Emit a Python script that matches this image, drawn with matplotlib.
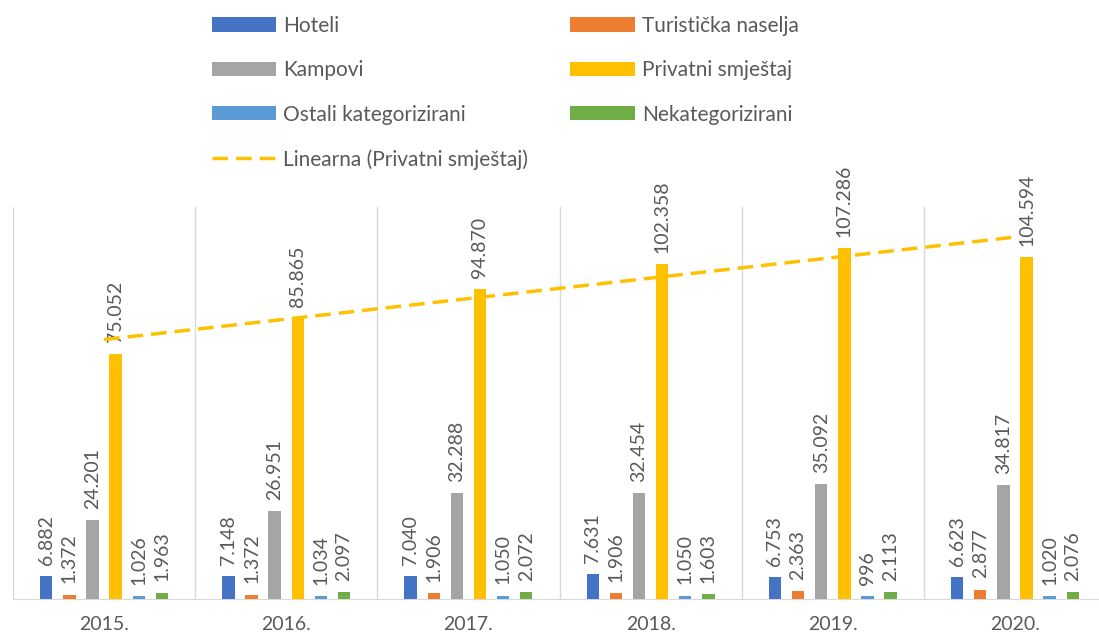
import matplotlib
matplotlib.use("Agg")
import matplotlib.pyplot as plt
import numpy as np

plt.rcParams['font.family'] = ['Lato', 'DejaVu Sans']

years = ['2015.', '2016.', '2017.', '2018.', '2019.', '2020.']
series_names = ['Hoteli', 'Turistička naselja', 'Kampovi', 'Privatni smještaj',
                'Ostali kategorizirani', 'Nekategorizirani']
hoteli = [6882, 7148, 7040, 7631, 6753, 6623]
naselja = [1372, 1372, 1906, 1906, 2363, 2877]
kampovi = [24201, 26951, 32288, 32454, 35092, 34817]
privatni = [75052, 85865, 94870, 102358, 107286, 104594]
ostali = [1026, 1034, 1050, 1050, 996, 1020]
nekat = [1963, 2097, 2072, 1603, 2113, 2076]
colors = ['#4472C4', '#ED7D31', '#A5A5A5', '#FFC000', '#5B9BD5', '#70AD47']

all_series = [hoteli, naselja, kampovi, privatni, ostali, nekat]


def fmt(v):
    return '{:,}'.format(v).replace(',', '.')


fig = plt.figure(figsize=(10.99, 6.37), dpi=100)
ax = fig.add_axes([13 / 1099, 38 / 637, 1093 / 1099, (637 - 38 - 206.6) / 637])

x = np.arange(len(years))
step = 0.127
width = 0.068
handles = []
for i, (name, vals, c) in enumerate(zip(series_names, all_series, colors)):
    pos = x + (i - 2.5) * step
    b = ax.bar(pos, vals, width=width, color=c, label=name, zorder=3)
    handles.append(b)
    for p, v in zip(pos, vals):
        ax.annotate(fmt(v), (p, v), xytext=(0, 8), textcoords='offset points',
                    rotation=90, ha='center', va='bottom', fontsize=14,
                    color='#595959')

# linear trendline for private accommodation
k, n0 = np.polyfit(x, privatni, 1)
xt = np.array([x[0], x[-1]])
trend, = ax.plot(xt, k * xt + n0, linestyle=(0, (4.5, 2.3)), color='#FFC000',
                 linewidth=2.5, zorder=4, label='Linearna (Privatni smještaj)')

ax.set_xlim(-0.5, len(years) - 0.5)
ax.set_ylim(0, 120000)
ax.set_xticks(x)
ax.set_xticklabels(years, fontsize=14, color='#595959')
ax.set_xticks(np.arange(-0.5, len(years)), minor=True)
ax.tick_params(axis='x', which='both', length=0, pad=12)
ax.grid(axis='x', which='minor', color='#D9D9D9', linewidth=1, zorder=0)
ax.set_yticks([])
for s in ['top', 'right', 'left']:
    ax.spines[s].set_visible(False)
ax.spines['bottom'].set_color('#D9D9D9')

# matplotlib fills legend column by column
order = [handles[0], handles[2], handles[4], trend, handles[1], handles[3], handles[5]]
fig.legend(order, [h.get_label() for h in order], ncol=2, loc='upper left',
           bbox_to_anchor=(193 / 1099, 1.0045), frameon=False, fontsize=15,
           labelcolor='#595959', handlelength=3.1, handleheight=0.67,
           columnspacing=2.0, labelspacing=1.17, handletextpad=0.34)

fig.savefig('out.png', dpi=100)
